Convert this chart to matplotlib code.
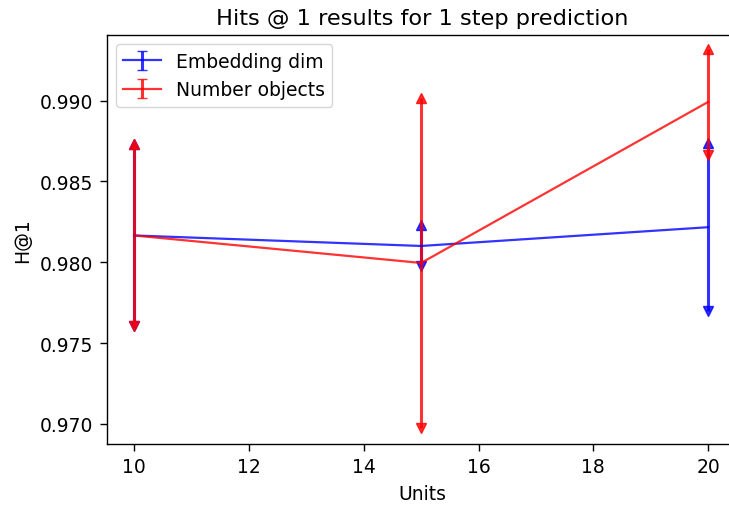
import matplotlib
matplotlib.use('Agg')
import matplotlib.pyplot as plt

# values
units = [10, 15, 20]

emb_mean = [0.98166, 0.98101, 0.98217]
emb_err = [0.00563, 0.00127, 0.00518]

obj_mean = [0.98166, 0.97996, 0.98992]
obj_err = [0.00563, 0.01018, 0.00328]

# original looks like a notebook figure blown up ~1.35x
s = 1.35
plt.rcParams.update({
    'font.size': 10 * s,
    'axes.linewidth': 0.8 * 1.25,
    'xtick.major.size': 3.5 * s,
    'ytick.major.size': 3.5 * s,
    'xtick.major.width': 0.8 * 1.25,
    'ytick.major.width': 0.8 * 1.25,
    'xtick.major.pad': 3.5 * s,
    'ytick.major.pad': 3.5 * s,
    'lines.linewidth': 1.6,
    'axes.titlepad': 6 * s,
    'axes.labelpad': 4 * s,
})

fig = plt.figure(figsize=(7.29, 5.06), dpi=100)
# axes run slightly past the right edge, like the cropped original
ax = fig.add_axes([106.5 / 729, 61 / 506, 631.5 / 729, 409 / 506])


def arrow_errorbar(y, err, color, label):
    cont = ax.errorbar(units, y, yerr=err, color=color, alpha=0.8,
                       elinewidth=2.2, capsize=4, label=label)
    # turn the flat caps into filled arrow heads, as in the original
    lower, upper = cont.lines[1]
    lower.set_marker('v')
    upper.set_marker('^')
    for cap in (lower, upper):
        cap.set_markersize(6.5)
        cap.set_color(color)
    return cont


arrow_errorbar(emb_mean, emb_err, 'blue', 'Embedding dim')
arrow_errorbar(obj_mean, obj_err, 'red', 'Number objects')

ax.set_xticks([10, 12, 14, 16, 18, 20])
ax.set_yticks([0.970, 0.975, 0.980, 0.985, 0.990])
ax.set_yticklabels(['0.970', '0.975', '0.980', '0.985', '0.990'])
ax.set_xlim(9.52, 20.52)
ax.set_ylim(0.96876, 0.99406)

ax.set_xlabel('Units')
ax.set_ylabel('H@1')
ax.set_title('Hits @ 1 results for 1 step prediction', fontsize=12 * s)
ax.legend(loc='upper left')

fig.savefig('out.png', dpi=100)
